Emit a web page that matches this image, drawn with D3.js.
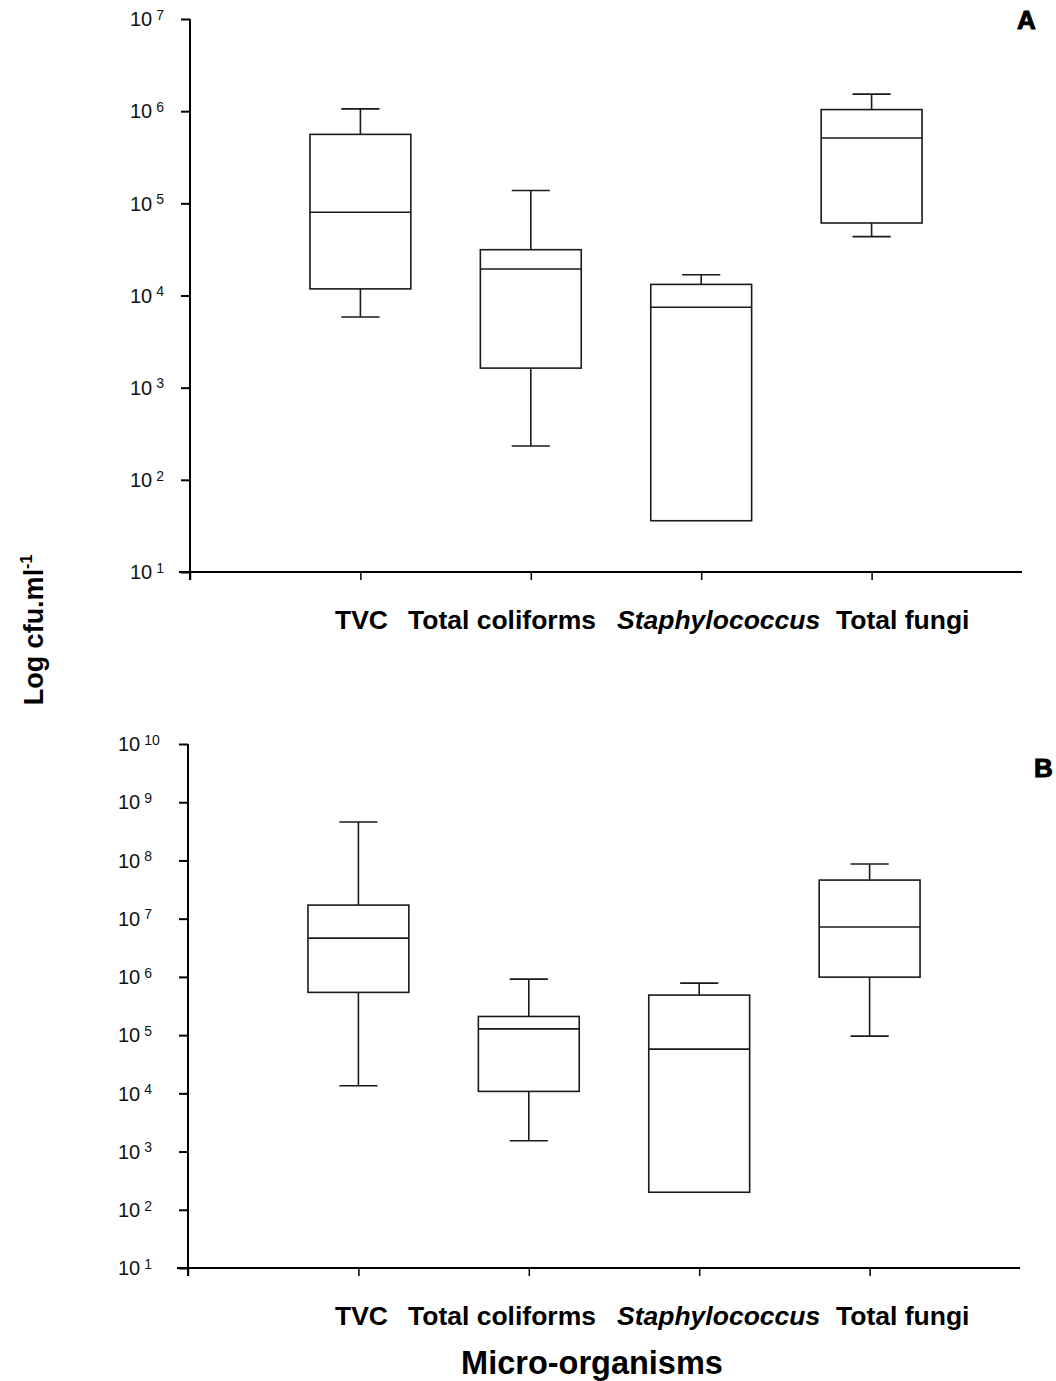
<!DOCTYPE html>
<html><head><meta charset="utf-8">
<script src="https://cdn.jsdelivr.net/npm/d3@7"></script>
<style>body{margin:0;background:#fff}svg{display:block}text{font-family:"Liberation Sans",Arial,sans-serif}</style>
</head><body><svg id="c" width="1056" height="1381"></svg>
<script>
const categories = ["TVC", "Total coliforms", "Staphylococcus", "Total fungi"];
const italicCat = [false, false, true, false];
// Panel A (cfu/ml)
const aMin = [5850, 233, 36, 43500];
const aQ1 = [11800, 1630, 36, 61200];
const aMed = [80000, 19400, 7450, 512000];
const aQ3 = [560000, 31400, 13200, 1040000];
const aMax = [1060000, 138000, 16800, 1530000];
// Panel B (cfu/ml)
const bMin = [13500, 1530, 200, 96000];
const bQ1 = [542000, 10800, 200, 990000];
const bMed = [4640000, 128000, 57400, 7200000];
const bQ3 = [17100000, 209000, 487000, 46000000];
const bMax = [457000000, 916000, 780000, 86700000];
const aTickExp = [1, 2, 3, 4, 5, 6, 7];
const bTickExp = [1, 2, 3, 4, 5, 6, 7, 8, 9, 10];

const svg = d3.select("#c");

function panel(cfg) {
  const g = svg.append("g");
  const y = d3.scaleLog().domain(cfg.yDomain).range([cfg.bottom, cfg.top]);
  const x = d3.scaleLinear().domain([0, 5]).range([cfg.left, cfg.left + 852]);
  // y axis
  const ya = d3.axisLeft(y).tickValues(cfg.exps.map(e => Math.pow(10, e))).tickFormat("").tickSize(9).tickSizeOuter(0);
  const yg = g.append("g").attr("transform", `translate(${cfg.left},0)`).call(ya);
  yg.select(".domain").attr("stroke-width", 2).attr("d", `M0,${cfg.bottom + 8}V${cfg.top}`);
  yg.selectAll(".tick line").attr("stroke-width", 2);
  // tick labels
  cfg.exps.forEach(e => {
    const t = g.append("text").attr("x", cfg.left - cfg.labelOff).attr("y", y(Math.pow(10, e)) + cfg.fs * 0.36)
      .attr("font-size", cfg.fs).attr("fill", "#111");
    t.append("tspan").text("10");
    t.append("tspan").attr("dx", 4).attr("dy", -cfg.fs * 0.32).attr("font-size", cfg.sfs).text(String(e));
  });
  // x axis
  const xa = d3.axisBottom(x).tickValues([0, 1, 2, 3, 4]).tickFormat("").tickSize(8).tickSizeOuter(0);
  const xg = g.append("g").attr("transform", `translate(0,${cfg.bottom})`).call(xa);
  xg.select(".domain").attr("stroke-width", 2).attr("d", `M${cfg.left - 11},0H${cfg.right}`);
  xg.selectAll(".tick line").attr("stroke-width", 1.5);
  // boxes
  const hw = x(0.296) - x(0);
  const cw = x(0.112) - x(0);
  const d = cfg.data;
  categories.forEach((c, i) => {
    const cx = x(i + 1);
    const bg = g.append("g").attr("stroke", "#1a1a1a").attr("stroke-width", 1.6).attr("fill", "none");
    if (d.max[i] > d.q3[i]) {
      bg.append("line").attr("x1", cx).attr("x2", cx).attr("y1", y(d.q3[i])).attr("y2", y(d.max[i]));
      bg.append("line").attr("x1", cx - cw).attr("x2", cx + cw).attr("y1", y(d.max[i])).attr("y2", y(d.max[i]));
    }
    if (d.min[i] < d.q1[i]) {
      bg.append("line").attr("x1", cx).attr("x2", cx).attr("y1", y(d.q1[i])).attr("y2", y(d.min[i]));
      bg.append("line").attr("x1", cx - cw).attr("x2", cx + cw).attr("y1", y(d.min[i])).attr("y2", y(d.min[i]));
    }
    bg.append("rect").attr("x", cx - hw).attr("width", 2 * hw).attr("y", y(d.q3[i])).attr("height", y(d.q1[i]) - y(d.q3[i]));
    bg.append("line").attr("x1", cx - hw).attr("x2", cx + hw).attr("y1", y(d.med[i])).attr("y2", y(d.med[i]));
  });
  // category labels (typed as one line in the original)
  const labelStart = [335, 408, 617, 836];
  categories.forEach((c, i) => {
    g.append("text").attr("x", labelStart[i]).attr("y", cfg.catY).attr("font-size", 26.5).attr("font-weight", "bold")
      .attr("font-style", italicCat[i] ? "italic" : "normal").attr("fill", "#000").text(c);
  });
  // panel letter
  g.append("text").attr("x", cfg.letterX).attr("y", cfg.letterY).attr("font-family", "DejaVu Sans").attr("font-weight", "bold")
    .attr("font-size", 26).attr("stroke", "#000").attr("stroke-width", 1).attr("fill", "#000").text(cfg.letter);
}

panel({ yDomain: [10, 1e7], top: 19, bottom: 572, left: 190, right: 1022, exps: aTickExp, fs: 20, sfs: 14, labelOff: 60,
  data: { min: aMin, q1: aQ1, med: aMed, q3: aQ3, max: aMax }, catY: 629, letter: "A", letterX: 1017, letterY: 29 });
panel({ yDomain: [10, 1e10], top: 744, bottom: 1268, left: 188, right: 1020, exps: bTickExp, fs: 20, sfs: 14, labelOff: 70,
  data: { min: bMin, q1: bQ1, med: bMed, q3: bQ3, max: bMax }, catY: 1325, letter: "B", letterX: 1034, letterY: 777 });

// axis titles
svg.append("text").attr("transform", "translate(43,630) rotate(-90)").attr("text-anchor", "middle")
  .attr("font-size", 27).attr("font-weight", "bold").attr("fill", "#000")
  .call(t => { t.append("tspan").text("Log cfu.ml"); t.append("tspan").attr("dy", -11).attr("font-size", 16).text("-1"); });
svg.append("text").attr("x", 592).attr("y", 1374).attr("text-anchor", "middle").attr("font-size", 32.5).attr("font-weight", "bold")
  .attr("fill", "#000").text("Micro-organisms");
</script></body></html>
